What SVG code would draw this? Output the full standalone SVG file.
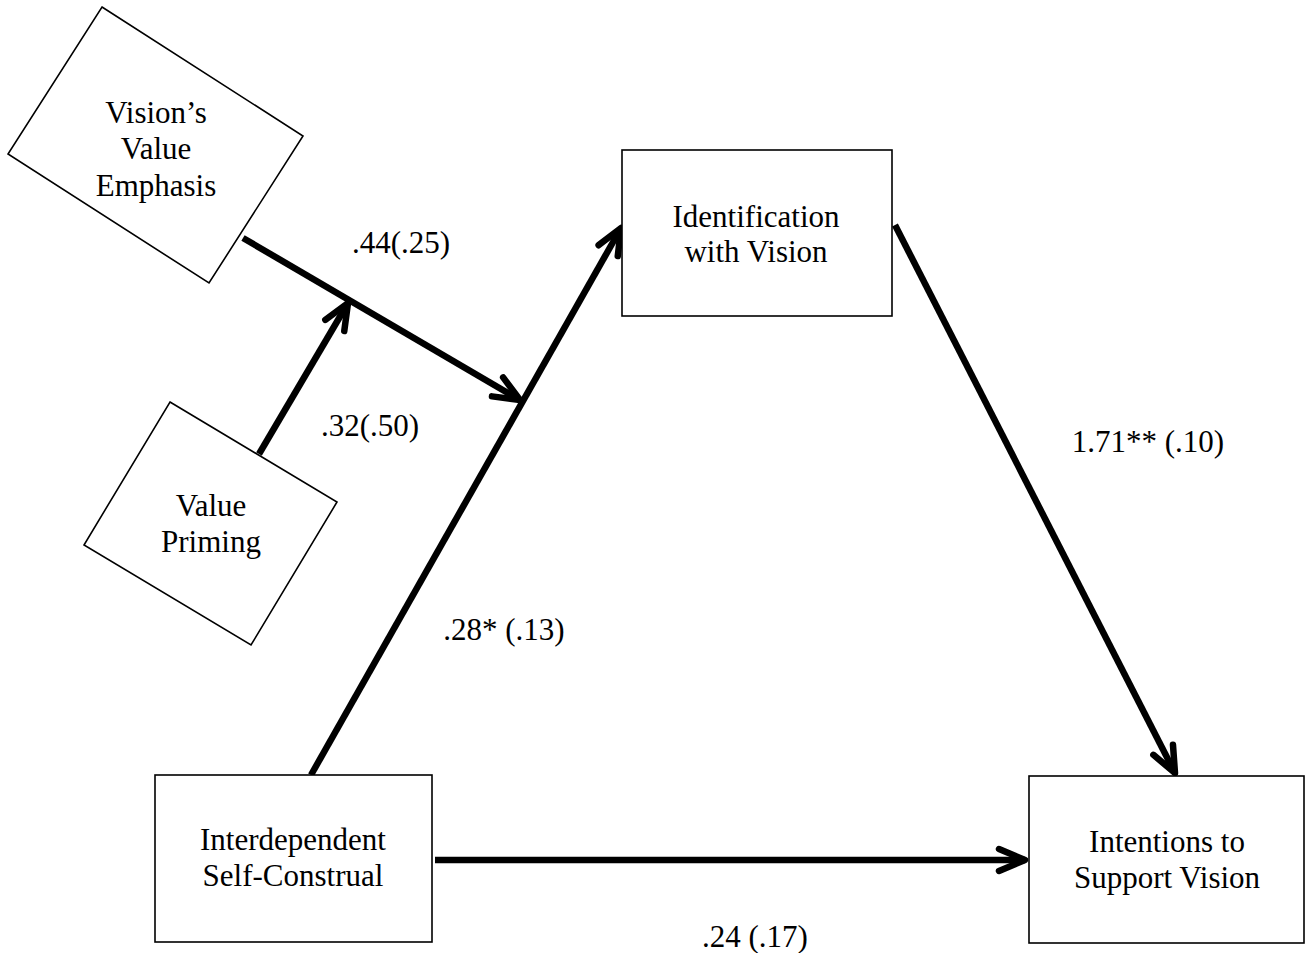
<svg xmlns="http://www.w3.org/2000/svg" width="1307" height="953" viewBox="0 0 1307 953">
<style>
.box{fill:#fff;stroke:#000;stroke-width:1.6}
.t{font-family:"Liberation Serif","Times New Roman",serif;font-size:31px;fill:#000;text-anchor:middle}
.c{stroke:#000;stroke-width:6.5;fill:none;marker-end:url(#ah)}
</style>
<defs>
<marker id="ah" markerUnits="userSpaceOnUse" orient="auto" refX="0" refY="0" markerWidth="40" markerHeight="40" overflow="visible">
<path d="M-26,-11 L0,0 L-26,11" fill="none" stroke="#000" stroke-width="6.5" stroke-linecap="round" stroke-linejoin="round"/>
</marker>
</defs>
<rect width="1307" height="953" fill="#fff"/>
<g id="connectors">
<line class="c" x1="311" y1="775" x2="621" y2="228"/>
<line class="c" x1="895" y1="225" x2="1175" y2="773"/>
<line class="c" x1="435" y1="860" x2="1025" y2="860"/>
<line class="c" x1="243" y1="238" x2="520" y2="400"/>
<line class="c" x1="259" y1="454" x2="348" y2="303"/>
<text class="t" x="401" y="253">.44(.25)</text>
<text class="t" x="370" y="436">.32(.50)</text>
<text class="t" x="504" y="640">.28* (.13)</text>
<text class="t" x="1148" y="452">1.71** (.10)</text>
<text class="t" x="755" y="947">.24 (.17)</text>
</g>
<g id="emphasis">
<polygon class="box" points="102,7 303,136 209,283 8,154"/>
<text class="t" x="156" y="123">Vision’s</text>
<text class="t" x="156" y="159">Value</text>
<text class="t" x="156" y="196">Emphasis</text>
</g>
<g id="priming">
<polygon class="box" points="170,402 337,502 251,645 84,545"/>
<text class="t" x="211" y="516">Value</text>
<text class="t" x="211" y="552">Priming</text>
</g>
<g id="identification">
<rect class="box" x="622" y="150" width="270" height="166"/>
<text class="t" x="756" y="227">Identification</text>
<text class="t" x="756" y="262">with Vision</text>
</g>
<g id="interdependent">
<rect class="box" x="155" y="775" width="277" height="167"/>
<text class="t" x="293" y="850">Interdependent</text>
<text class="t" x="293" y="886">Self-Construal</text>
</g>
<g id="intentions">
<rect class="box" x="1029" y="776" width="275" height="167"/>
<text class="t" x="1167" y="852">Intentions to</text>
<text class="t" x="1167" y="888">Support Vision</text>
</g>
</svg>
